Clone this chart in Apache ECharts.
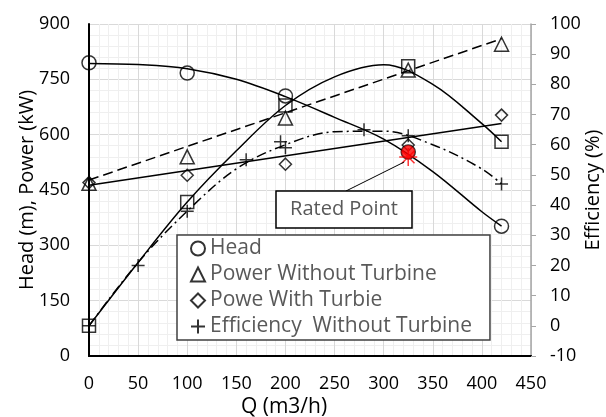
<!DOCTYPE html>
<html>
<head>
<meta charset="utf-8">
<script src="https://cdn.jsdelivr.net/npm/echarts@6/dist/echarts.min.js"></script>
<style>
html,body{margin:0;padding:0;background:#fff;}
#c{width:606px;height:417px;}
</style>
</head>
<body>
<div id="c"></div>
<script>
// ---- data ----
const qPoints = [0, 100, 200, 325, 420];
const head = [795, 767, 705, 553, 352];
const powerWithout = [468, 540, 645, 775, 845];
const powerWith = [470, 490, 520, 572, 653];

const effWithoutQ = [0, 50, 100, 160, 195, 200, 280, 325, 420];
const effWithout = [0, 20, 38, 55, 61, 59, 65, 63, 47];

const effWithQ = [0, 100, 200, 325, 420];
const effWith = [0, 41, 73, 86, 61];

// trend lines
const headTrendQ = [0, 50, 100, 150, 200, 250, 300, 350, 400, 420];
const headTrend = [793, 790, 779, 750, 703, 647, 588, 500, 391, 352];
const powerWithoutTrendQ = [0, 420];
const powerWithoutTrend = [477, 860];
const powerWithTrendQ = [0, 420];
const powerWithTrend = [463, 630];
const effWithoutTrendQ = [0, 50, 100, 150, 200, 250, 300, 350, 400, 420];
const effWithoutTrend = [0, 21, 38, 52, 60, 64.3, 64.5, 60, 52, 47];
const effWithTrendQ = [0, 50, 100, 150, 200, 250, 300, 350, 400, 420];
const effWithTrend = [0, 21, 41, 58, 73, 82.5, 86.5, 80, 67, 61];

const ratedQ = [325];
const ratedHead = [553];

const xTicks = [0, 50, 100, 150, 200, 250, 300, 350, 400, 450];

const zip = (xs, ys) => xs.map((x, i) => [x, ys[i]]);
const FONT = 'Open Sans';
const hollow = { color: 'rgba(0,0,0,0)', borderColor: '#000', borderWidth: 1.5 };
const PLUS = 'path://M5,0L5,10M0,5L10,5';
const STAR = 'path://M10,0L10,20M0,10L20,10M3,3L17,17M17,3L3,17';

const chart = echarts.init(document.getElementById('c'), null, { renderer: 'canvas' });
const option = {
  animation: false,
  backgroundColor: '#fff',
  textStyle: { fontFamily: FONT },
  grid: { left: 89, right: 75, top: 24, bottom: 61, containLabel: false, outerBoundsMode: 'none' },
  legend: {
    orient: 'vertical',
    left: 177, top: 235,
    data: ['Head', 'Power Without Turbine', 'Powe With Turbie', 'Efficiency  Without Turbine'],
    itemWidth: 14, itemHeight: 14, itemGap: 5,
    padding: [3, 18, 3, 13],
    backgroundColor: '#fff',
    borderColor: '#404040', borderWidth: 1.5,
    textStyle: { fontFamily: FONT, fontSize: 21, color: '#595959' }
  },
  xAxis: [{
    type: 'value', min: 0, max: 450, interval: 50,
    name: 'Q (m3/h)', nameLocation: 'middle', nameGap: 41, nameMoveOverlap: false,
    nameTextStyle: { fontFamily: FONT, fontSize: 21, color: '#000', padding: [0, 52, 0, 0] },
    axisLine: { show: true, onZero: false, lineStyle: { color: '#000', width: 2 } },
    axisTick: { show: false },
    axisLabel: { margin: 19, fontFamily: FONT, fontSize: 18, color: '#000',
      formatter: v => xTicks.includes(v) ? String(v) : '' },
    splitLine: { show: true, lineStyle: { color: '#d9d9d9', width: 1 } },
    minorTick: { show: false, splitNumber: 5 },
    minorSplitLine: { show: true, lineStyle: { color: '#efefef', width: 1 } }
  }, {
    type: 'value', min: 0, max: 450, position: 'top',
    axisLine: { show: true, lineStyle: { color: '#000', width: 1.5 } },
    axisTick: { show: false }, axisLabel: { show: false }, splitLine: { show: false }
  }],
  yAxis: [{
    type: 'value', min: 0, max: 900, interval: 150,
    name: 'Head (m), Power (kW)', nameLocation: 'middle', nameGap: 52, nameMoveOverlap: false,
    nameTextStyle: { fontFamily: FONT, fontSize: 20, color: '#000' },
    axisLine: { show: true, onZero: false, lineStyle: { color: '#000', width: 2 } },
    axisTick: { show: false },
    axisLabel: { margin: 19, fontFamily: FONT, fontSize: 18, color: '#000' },
    splitLine: { show: true, lineStyle: { color: '#d9d9d9', width: 1 } },
    minorTick: { show: false, splitNumber: 5 },
    minorSplitLine: { show: true, lineStyle: { color: '#efefef', width: 1 } }
  }, {
    type: 'value', min: -10, max: 100, interval: 10, position: 'right',
    name: 'Efficiency (%)', nameLocation: 'middle', nameGap: 52, nameRotate: 90, nameMoveOverlap: false,
    nameTextStyle: { fontFamily: FONT, fontSize: 20, color: '#000' },
    axisLine: { show: true, onZero: false, lineStyle: { color: '#a6a6a6', width: 1.5 } },
    axisTick: { show: true, inside: false, length: 5, lineStyle: { color: '#a6a6a6', width: 1 } },
    axisLabel: { margin: 19, fontFamily: FONT, fontSize: 18, color: '#000' },
    splitLine: { show: false }
  }],
  series: [
    { name: 'headTrend', type: 'line', data: zip(headTrendQ, headTrend), smooth: 0.35, symbol: 'none',
      lineStyle: { color: '#000', width: 1.5 }, z: 2, silent: true },
    { name: 'powerWithoutTrend', type: 'line', data: zip(powerWithoutTrendQ, powerWithoutTrend), symbol: 'none',
      lineStyle: { color: '#000', width: 1.5, type: [10, 5] }, z: 2, silent: true },
    { name: 'powerWithTrend', type: 'line', data: zip(powerWithTrendQ, powerWithTrend), symbol: 'none',
      lineStyle: { color: '#000', width: 1.5 }, z: 2, silent: true },
    { name: 'effWithoutTrend', type: 'line', yAxisIndex: 1, data: zip(effWithoutTrendQ, effWithoutTrend), smooth: 0.35, symbol: 'none',
      lineStyle: { color: '#000', width: 1.5, type: [10, 4, 2, 4] }, z: 2, silent: true },
    { name: 'effWithTrend', type: 'line', yAxisIndex: 1, data: zip(effWithTrendQ, effWithTrend), smooth: 0.35, symbol: 'none',
      lineStyle: { color: '#000', width: 1.5 }, z: 2, silent: true },
    { name: 'Head', type: 'scatter', data: zip(qPoints, head), symbol: 'circle', symbolSize: 14, itemStyle: hollow, z: 3 },
    { name: 'Power Without Turbine', type: 'scatter', data: zip(qPoints, powerWithout), symbol: 'triangle', symbolSize: 14, itemStyle: hollow, z: 3 },
    { name: 'Powe With Turbie', type: 'scatter', data: zip(qPoints, powerWith), symbol: 'diamond', symbolSize: 12, itemStyle: hollow, z: 3 },
    { name: 'Efficiency  Without Turbine', type: 'scatter', yAxisIndex: 1, data: zip(effWithoutQ, effWithout), symbol: PLUS, symbolSize: 13,
      itemStyle: { color: '#000', borderColor: '#000', borderWidth: 1.5 }, z: 3 },
    { name: 'Efficiency With Turbine', type: 'scatter', yAxisIndex: 1, data: zip(effWithQ, effWith), symbol: 'rect', symbolSize: 13, itemStyle: hollow, z: 3 },
    { name: 'ratedStar', type: 'scatter', data: zip(ratedQ, ratedHead), symbol: STAR, symbolSize: 18, symbolOffset: [0, 5],
      itemStyle: { color: '#ff0000', borderColor: '#ff0000', borderWidth: 1.5 }, z: 4 },
    { name: 'ratedPoint', type: 'scatter', data: zip(ratedQ, ratedHead), symbol: 'circle', symbolSize: 13,
      itemStyle: { color: '#ff0000', borderColor: '#c00000', borderWidth: 1 }, z: 5 }
  ]
};
chart.setOption(option);

// annotation box "Rated Point" with leader line to the rated point
const rp = chart.convertToPixel({ xAxisIndex: 0, yAxisIndex: 0 }, [ratedQ[0], ratedHead[0]]);
const box = { x: 276, y: 191, w: 136, h: 37 };
chart.setOption({
  graphic: [
    { type: 'line', z: 10, shape: { x1: box.x + 70, y1: box.y, x2: rp[0] - 4, y2: rp[1] + 10 },
      style: { stroke: '#000', lineWidth: 1 } },
    { type: 'rect', z: 10, shape: { x: box.x, y: box.y, width: box.w, height: box.h },
      style: { fill: '#fff', stroke: '#000', lineWidth: 1.5 } },
    { type: 'text', z: 11, x: box.x + box.w / 2, y: box.y + box.h / 2,
      style: { text: 'Rated Point', fontFamily: FONT, fontSize: 20, fill: '#595959', align: 'center', verticalAlign: 'middle' } }
  ]
});
</script>
</body>
</html>
